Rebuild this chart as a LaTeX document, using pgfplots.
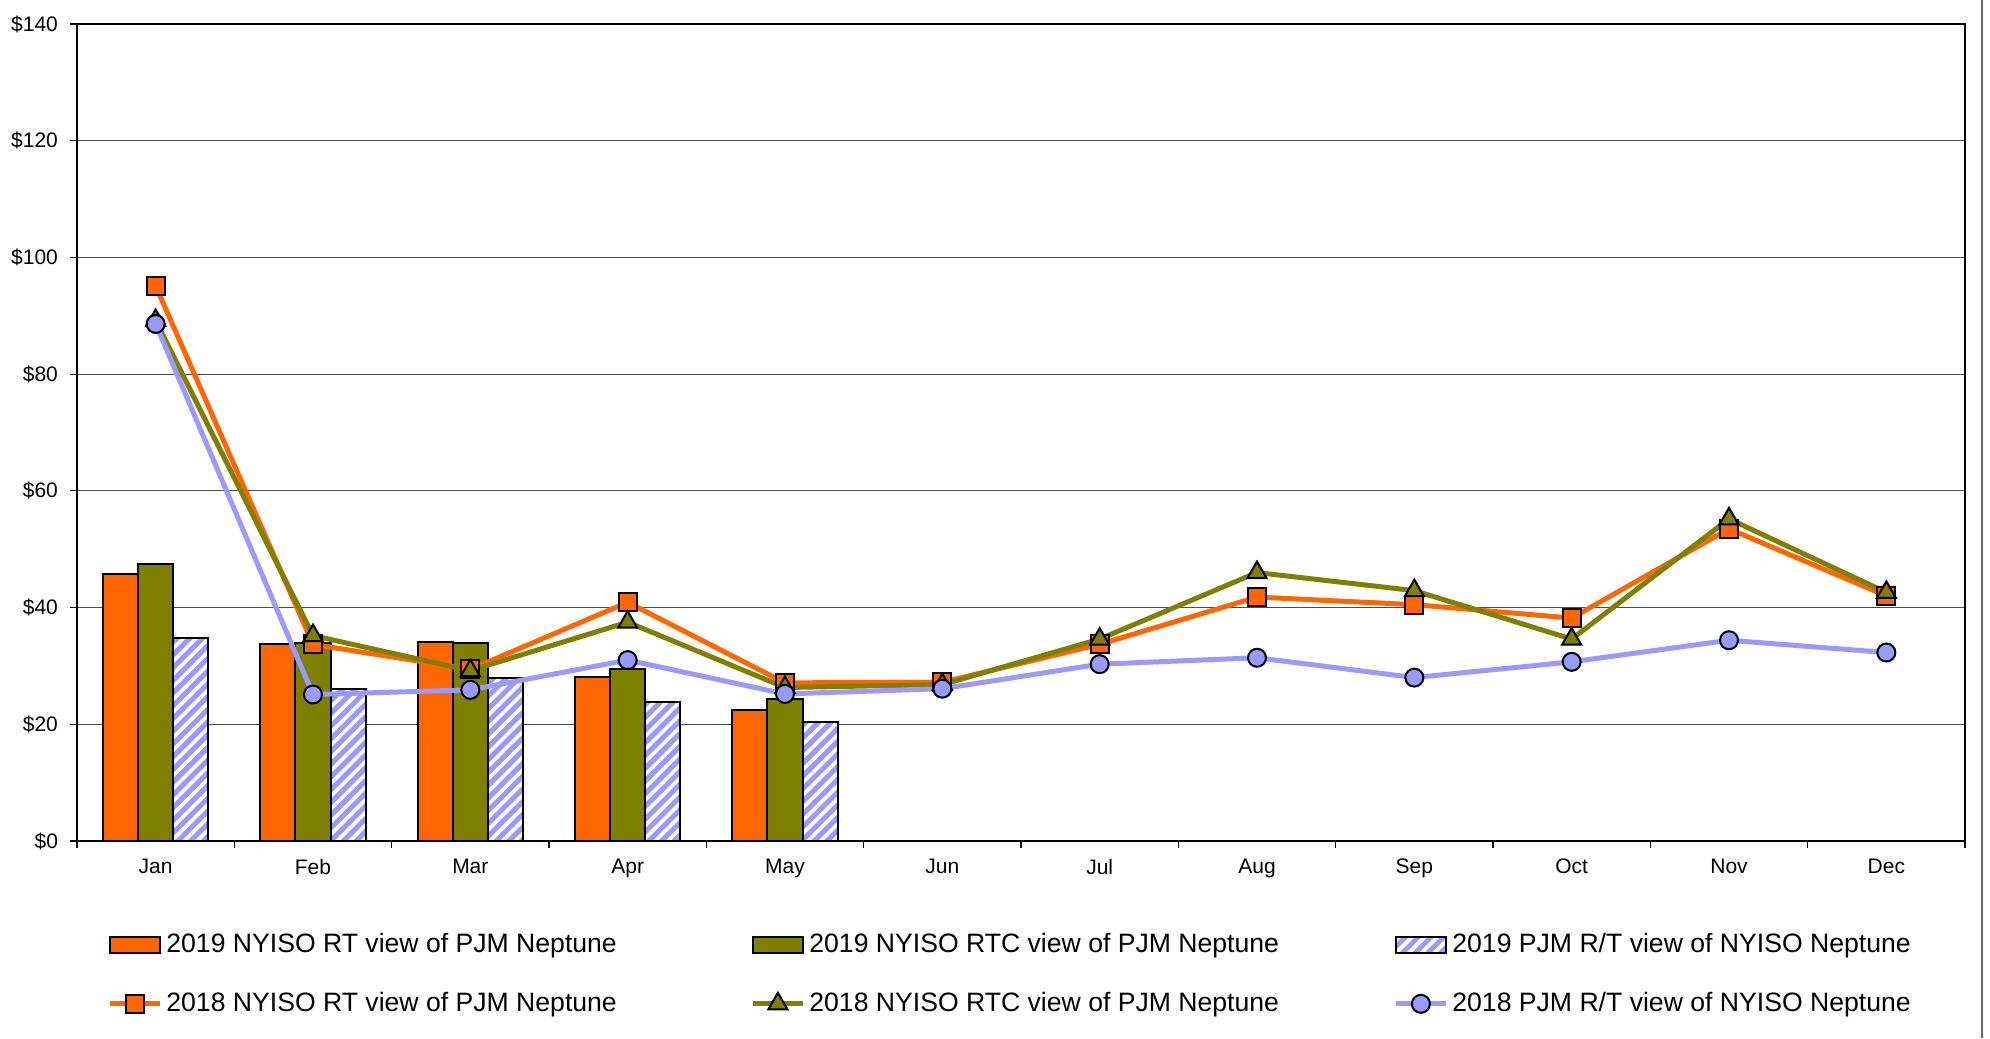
\documentclass[border=0pt]{standalone}
\usepackage{fontspec}
\setmainfont{Liberation Sans}
\usepackage{pgfplots}
\pgfplotsset{compat=1.18}
\usetikzlibrary{patterns.meta}
\definecolor{cOr}{HTML}{FF6600}
\definecolor{cOl}{HTML}{808000}
\definecolor{cBl}{HTML}{9999FF}
\pgfplotsset{
  linelegend/.style={legend image code/.code={\draw[mark repeat=2, mark phase=2, ##1] plot coordinates {(0pt,0pt) (12.5pt,0pt) (25pt,0pt)};}},
}
\begin{document}
\begin{tikzpicture}
\begin{axis}[
  scale only axis, width=944pt, height=408.5pt,
  at={(0,0)}, anchor=south west,
  xmin=-0.5, xmax=11.5, ymin=0, ymax=140,
  xtick={0,...,11},
  xticklabels={Jan,Feb,Mar,Apr,May,Jun,Jul,Aug,Sep,Oct,Nov,Dec},
  major x tick style={draw=none},
  minor xtick={-0.5,0.5,...,11.5},
  minor tick length=3.5pt, major tick length=3.5pt,
  ytick={0,20,...,140},
  yticklabels={\$0,\$20,\$40,\$60,\$80,\$100,\$120,\$140},
  tick align=outside, tick pos=left,
  ymajorgrids, grid style={black!70, line width=0.6pt},
  axis line style={black, line width=0.8pt},
  tick style={black, line width=0.6pt},
  tick label style={font=\fontsize{10.5}{12}\selectfont},
  yticklabel style={xshift=-2.5pt},
  xticklabel style={yshift=-2pt},
  legend columns=3,
  legend style={draw=none, fill=none, at={(rel axis cs:0,0)}, anchor=north west,
    xshift=15pt, yshift=-44pt, row sep=14.5pt, column sep=0pt, inner sep=0pt,
    font=\fontsize{13.3}{15}\selectfont},
  legend cell align=left,
]
% 2019 bars
\addplot[ybar, bar width=17.55pt, bar shift=-17.55pt, fill=cOr, draw=black, line width=1pt,
  legend image code/.code={\draw[fill=cOr, draw=black, line width=1pt] (0pt,-4pt) rectangle (25pt,4pt);}]
  coordinates {(0,45.7) (1,33.8) (2,34.1) (3,28.1) (4,22.4)};
\addlegendentry{\makebox[290pt][l]{2019 NYISO RT view of PJM Neptune}}
\addplot[ybar, bar width=17.55pt, bar shift=0pt, fill=cOl, draw=black, line width=1pt,
  legend image code/.code={\draw[fill=cOl, draw=black, line width=1pt] (0pt,-4pt) rectangle (25pt,4pt);}]
  coordinates {(0,47.5) (1,33.9) (2,34.0) (3,29.5) (4,24.3)};
\addlegendentry{\makebox[290pt][l]{2019 NYISO RTC view of PJM Neptune}}
\addplot[ybar, bar width=17.55pt, bar shift=17.55pt, fill=cBl, draw=black, line width=1pt,
  postaction={pattern={Lines[angle=45, distance=4.5pt, line width=1.8pt]}, pattern color=white},
  legend image code/.code={\draw[fill=cBl, draw=black, line width=1pt, postaction={pattern={Lines[angle=45, distance=4.5pt, line width=1.8pt]}, pattern color=white}] (0pt,-4pt) rectangle (25pt,4pt);}]
  coordinates {(0,34.8) (1,26.0) (2,27.9) (3,23.9) (4,20.4)};
\addlegendentry{\makebox[290pt][l]{2019 PJM R/T view of NYISO Neptune}}
% 2018 lines
\addplot[cOr, line width=2.5pt, mark=square*, mark size=4.5pt,
  mark options={fill=cOr, draw=black, line width=1pt}, linelegend]
  coordinates {(0,95.1) (1,33.7) (2,29.4) (3,40.9) (4,27.1) (5,27.2) (6,33.7) (7,41.8) (8,40.5) (9,38.2) (10,53.5) (11,42.0)};
\addlegendentry{\makebox[290pt][l]{2018 NYISO RT view of PJM Neptune}}
\addplot[cOl, line width=2.5pt, mark=triangle*, mark size=5.5pt,
  mark options={fill=cOl, draw=black, line width=1pt}, linelegend]
  coordinates {(0,89.2) (1,35.2) (2,29.2) (3,37.5) (4,26.3) (5,26.8) (6,34.6) (7,46.0) (8,42.9) (9,34.6) (10,55.2) (11,42.6)};
\addlegendentry{\makebox[290pt][l]{2018 NYISO RTC view of PJM Neptune}}
\addplot[cBl, line width=2.5pt, mark=*, mark size=4.5pt,
  mark options={fill=cBl, draw=black, line width=1pt}, linelegend]
  coordinates {(0,88.6) (1,25.1) (2,25.9) (3,31.0) (4,25.2) (5,26.1) (6,30.3) (7,31.4) (8,28.0) (9,30.7) (10,34.4) (11,32.3)};
\addlegendentry{\makebox[290pt][l]{2018 PJM R/T view of NYISO Neptune}}
\end{axis}
\draw[black!60, line width=1pt] (952.5pt,-98.5pt) -- (952.5pt,420.5pt);
\pgfresetboundingbox
\path[use as bounding box] (-38.5pt,-98.5pt) rectangle (956.5pt,420.5pt);
\end{tikzpicture}
\end{document}
